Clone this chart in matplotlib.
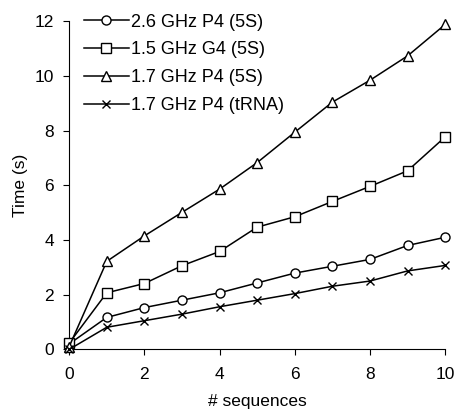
import numpy as np
import matplotlib
matplotlib.use("Agg")
import matplotlib.pyplot as plt
plt.rcParams["font.family"] = ["Liberation Sans", "DejaVu Sans"]

n_seq = [0, 1, 2, 3, 4, 5, 6, 7, 8, 9, 10]
p4_26_5s = [0.2, 1.17, 1.53, 1.80, 2.07, 2.43, 2.79, 3.04, 3.29, 3.80, 4.10]
g4_15_5s = [0.23, 2.07, 2.41, 3.06, 3.58, 4.47, 4.85, 5.41, 5.96, 6.53, 7.77]
p4_17_5s = [0.1, 3.22, 4.15, 5.01, 5.86, 6.83, 7.94, 9.04, 9.84, 10.73, 11.88]
p4_17_trna = [0.0, 0.81, 1.05, 1.29, 1.56, 1.80, 2.04, 2.31, 2.50, 2.87, 3.07]
labels = ["2.6 GHz P4 (5S)", "1.5 GHz G4 (5S)", "1.7 GHz P4 (5S)", "1.7 GHz P4 (tRNA)"]

fig = plt.figure(figsize=(4.58, 4.15), dpi=100)
ax = fig.add_axes([0.151, 0.158, 0.821, 0.791])

series = [p4_26_5s, g4_15_5s, p4_17_5s, p4_17_trna]
markers = ["o", "s", "^", "x"]
for ys, m, lab in zip(series, markers, labels):
    ax.plot(n_seq, ys, color="black", lw=1.1, marker=m, ms=6.5 if m != "x" else 6,
            mfc="white", mec="black", mew=1.0, label=lab, clip_on=False, zorder=3)

ax.set_xlim(0, 10)
ax.set_ylim(0, 12)
ax.set_xticks([0, 2, 4, 6, 8, 10])
ax.set_yticks([0, 2, 4, 6, 8, 10, 12])
ax.spines["top"].set_visible(False)
ax.spines["right"].set_visible(False)
ax.tick_params(axis="x", direction="out", length=4, labelsize=12.5, pad=9)
ax.tick_params(axis="y", direction="out", length=4, labelsize=12.5, pad=7)
ax.set_xlabel("# sequences", fontsize=12.5, labelpad=8)
ax.set_ylabel("Time (s)", fontsize=12.5, labelpad=5)

ax.legend(loc="upper left", frameon=False, fontsize=13, handlelength=2.5,
          labelspacing=0.6, handletextpad=0.1, borderaxespad=0.0,
          bbox_to_anchor=(0.02, 1.045))

fig.savefig("out.png", dpi=100)
